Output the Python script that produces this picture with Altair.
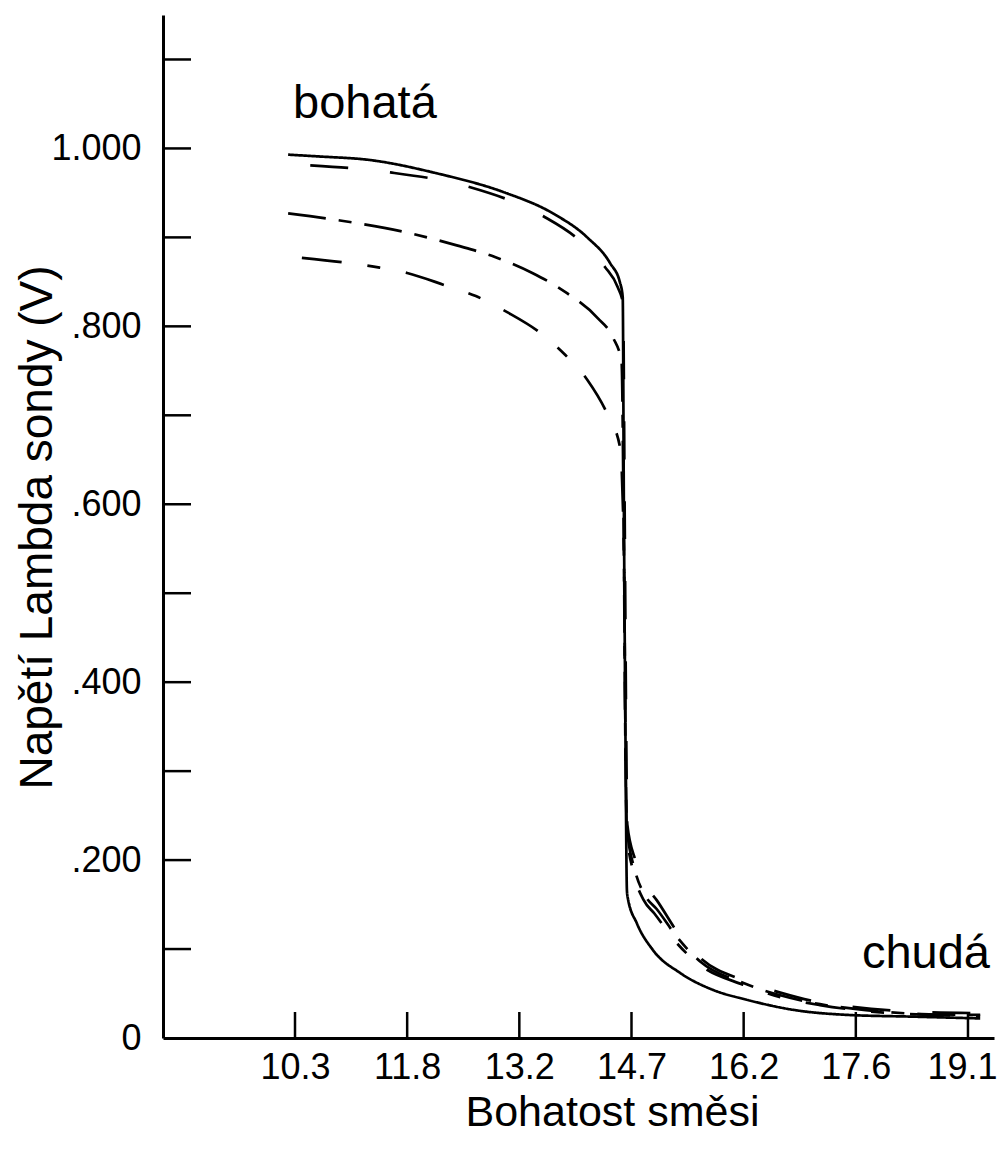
import altair as alt
import pandas as pd

# ---- data ----
series_names = ["solid", "dashed", "dashdot1", "dashdot2"]

solid_x = [10.20, 10.60, 11.27, 12.15, 13.02, 13.67, 14.12, 14.42, 14.55, 14.585, 14.60, 14.62, 14.64, 14.65, 14.77, 14.98, 15.34, 15.77, 16.21, 16.87, 17.52, 18.39, 19.27]
solid_y = [0.993, 0.991, 0.987, 0.972, 0.951, 0.927, 0.900, 0.871, 0.849, 0.833, 0.60, 0.35, 0.166, 0.158, 0.129, 0.099, 0.073, 0.054, 0.043, 0.031, 0.026, 0.024, 0.022]

dash_x = [10.49, 11.00, 11.54, 12.56, 13.54, 14.00, 14.35, 14.52, 14.59, 14.61, 14.63, 14.645, 14.75, 14.90, 15.03, 15.31, 15.60, 16.16, 16.65, 17.17, 17.50, 18.57, 19.27]
dash_y = [0.981, 0.978, 0.973, 0.957, 0.924, 0.898, 0.867, 0.844, 0.825, 0.60, 0.35, 0.24, 0.20, 0.17, 0.155, 0.118, 0.090, 0.065, 0.051, 0.040, 0.036, 0.029, 0.028]

dd1_x = [10.20, 10.88, 11.73, 12.41, 12.91, 13.40, 13.70, 13.86, 14.26, 14.46, 14.57, 14.60, 14.62, 14.64, 14.74, 14.88, 15.03, 15.31, 15.60, 16.16, 16.65, 17.17, 17.60, 18.50, 19.27]
dd1_y = [0.927, 0.919, 0.906, 0.891, 0.878, 0.860, 0.846, 0.837, 0.809, 0.787, 0.760, 0.55, 0.33, 0.235, 0.19, 0.16, 0.145, 0.112, 0.086, 0.062, 0.048, 0.038, 0.033, 0.027, 0.026]

dd2_x = [10.38, 10.91, 11.40, 11.76, 12.26, 12.66, 13.07, 13.50, 13.83, 14.12, 14.39, 14.55, 14.60, 14.62, 14.64, 14.73, 14.86, 15.00, 15.28, 15.60, 16.16, 16.65, 17.17, 17.80, 18.60, 19.27]
dd2_y = [0.877, 0.872, 0.866, 0.860, 0.846, 0.834, 0.816, 0.793, 0.768, 0.740, 0.700, 0.664, 0.55, 0.35, 0.23, 0.185, 0.155, 0.14, 0.108, 0.082, 0.060, 0.046, 0.037, 0.030, 0.026, 0.025]

x_ticks = [10.29, 11.76, 13.23, 14.7, 16.17, 17.64, 19.11]
x_tick_labels = ["10.3", "11.8", "13.2", "14.7", "16.2", "17.6", "19.1"]
y_label_ticks = [0, 0.2, 0.4, 0.6, 0.8, 1.0]
y_minor_ticks = [0.1, 0.2, 0.3, 0.4, 0.5, 0.6, 0.7, 0.8, 0.9, 1.0, 1.1]

ann_text = ["bohatá", "chudá"]
ann_x = [10.264, 17.72]
ann_y = [1.034, 0.079]

# ---- build tables ----
rows = []
for name, xs, ys in [("solid", solid_x, solid_y), ("dashed", dash_x, dash_y),
                     ("dashdot1", dd1_x, dd1_y), ("dashdot2", dd2_x, dd2_y)]:
    for a, b in zip(xs, ys):
        rows.append({"series": name, "x": a, "y": b})
df = pd.DataFrame(rows)

xt_df = pd.DataFrame({"x": x_ticks})
yt_df = pd.DataFrame({"y": y_minor_ticks})
ann_df = pd.DataFrame({"x": ann_x, "y": ann_y, "t": ann_text})

FONT = "Liberation Sans"

label_map = "{" + ",".join(f"'{v:.2f}':'{l}'" for v, l in zip(x_ticks, x_tick_labels)) + "}"

x_scale = alt.Scale(domain=[8.56, 19.451], nice=False, zero=False)
y_scale = alt.Scale(domain=[0, 1.15], nice=False, zero=False)

x_axis = alt.Axis(
    values=x_ticks, labelExpr=f"{label_map}[format(datum.value, '.2f')]",
    title="Bohatost směsi", titleX=449, titleY=87, titleBaseline="alphabetic",
    titleAlign="center", titleFontSize=43, labelBaseline="alphabetic", labelPadding=40,
    labelOverlap=False, labelFontSize=36,
    labelOffset={"condition": {"test": "datum.value > 19", "value": -6}, "value": 0},
)
y_axis = alt.Axis(
    values=y_label_ticks,
    labelExpr="datum.value == 0 ? '0' : (datum.value >= 0.999 ? format(datum.value, '.3f') : substring(format(datum.value, '.3f'), 1))",
    title="Napětí Lambda sondy (V)", titleX=-112, titleY=512, titleAngle=270,
    titleBaseline="alphabetic", titleAlign="center", titleFontSize=46, labelPadding=22,
    labelOverlap=False, labelFontSize=36,
)

def X():
    return alt.X("x:Q", scale=x_scale, axis=x_axis)

def Y():
    return alt.Y("y:Q", scale=y_scale, axis=y_axis)

lines = alt.Chart(df).mark_line(color="black", strokeWidth=2.7, interpolate="monotone").encode(
    x=X(), y=Y(),
    strokeDash=alt.StrokeDash("series:N", scale=alt.Scale(
        domain=series_names,
        range=[[1, 0], [38, 42], [38, 13, 13, 13], [40, 26, 13, 26]]), legend=None),
)

xticks = alt.Chart(xt_df).mark_rule(color="black", strokeWidth=2.5).encode(
    x=X(), y=alt.value(1023), y2=alt.value(997)
)
yticks = alt.Chart(yt_df).mark_rule(color="black", strokeWidth=2.5).encode(
    y=Y(), x=alt.value(0), x2=alt.value(28)
)

ann = alt.Chart(ann_df).mark_text(
    align="left", baseline="alphabetic", fontSize=47, font=FONT, color="black"
).encode(x=X(), y=Y(), text="t:N")

chart = alt.layer(lines, xticks, yticks, ann).properties(
    width=831, height=1023,
    autosize=alt.AutoSizeParams(type="none"),
    padding={"left": 155, "top": 7, "right": 3, "bottom": 97},
    background="white",
).configure_view(stroke=None).configure_axis(
    grid=False, domainColor="black", domainWidth=3, ticks=False, tickSize=0,
    labelColor="black", titleColor="black", labelFont=FONT, titleFont=FONT,
    titleFontWeight="normal",
)

chart.save("out.html", embed_options={"renderer": "svg", "actions": False})
